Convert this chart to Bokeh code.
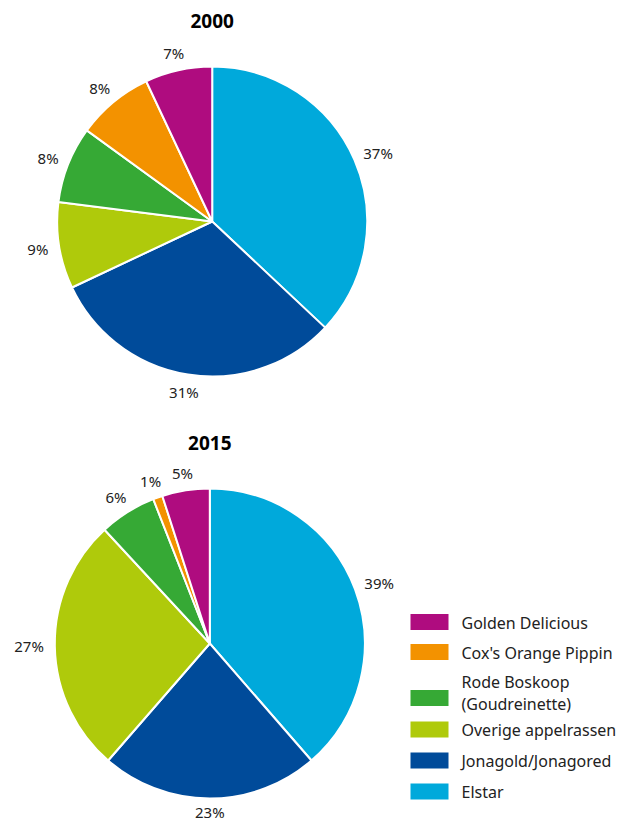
import math
from bokeh.plotting import figure
from bokeh.models import Range1d, ColumnDataSource
from bokeh.core.properties import value
from bokeh.embed import file_html
from bokeh.resources import INLINE

# ---- data ----
varieties = ["Elstar", "Jonagold/Jonagored", "Overige appelrassen",
             "Rode Boskoop\n(Goudreinette)", "Cox's Orange Pippin", "Golden Delicious"]
colors = ["#00a9db", "#004b9a", "#afca0b", "#36a935", "#f39200", "#af0c7f"]
years = ["2000", "2015"]
share_2000 = [37, 31, 9, 8, 8, 7]
share_2015 = [39, 23, 27, 6, 1, 5]

W, H = 622, 822
FONT = "Noto Sans"

def X(xi):
    return xi

def Y(yi):
    return H - yi

p = figure(width=W, height=H, output_backend="svg", toolbar_location=None,
           x_range=Range1d(0, W), y_range=Range1d(0, H), min_border=0)
p.axis.visible = False
p.grid.visible = False
p.outline_line_color = None
p.background_fill_color = "white"

R = 155
pies = [(years[0], share_2000, X(211.7), Y(221)), (years[1], share_2015, X(209.3), Y(643))]

for title, shares, cx, cy in pies:
    total = float(sum(shares))
    starts, ends, lx, ly, labels = [], [], [], [], []
    c = 0.0
    for s in shares:
        c0, c1 = c / total, (c + s) / total
        starts.append(math.pi / 2 - 2 * math.pi * c1)
        ends.append(math.pi / 2 - 2 * math.pi * c0)
        mid = 2 * math.pi * (c0 + c1) / 2
        ux, uy = math.sin(mid), math.cos(mid)
        txt = f"{s}%"
        w = 8.5 * len(txt)
        lx.append(cx + ux * 168 + ux * w / 2)
        ly.append(max(cy + uy * 168 + uy * 5, 11))  # keep inside the canvas
        labels.append(txt)
        c += s
    src = ColumnDataSource(dict(x=[cx] * len(shares), y=[cy] * len(shares),
                                start=starts, end=ends, color=colors))
    p.wedge(x="x", y="y", radius=R, start_angle="start", end_angle="end",
            direction="anticlock", fill_color="color", line_color="white",
            line_width=2, source=src)
    p.text(x=lx, y=ly, text=labels, text_align="center", text_baseline="middle",
           text_font=value(FONT), text_font_size="15px", text_color="#222222")
    p.text(x=[cx], y=[cy + R + 46], text=[title], text_align="center",
           text_baseline="middle", text_font=value(FONT), text_font_size="19px",
           text_font_style="bold", text_color="#000000")

# ---- legend (top to bottom: reverse slice order) ----
leg_names = varieties[::-1]
leg_colors = colors[::-1]
row_y = [621.5, 651.5, 697.5, 729, 760, 791]
text_y = [622, 652, 692.5, 729, 760, 791]
p.rect(x=[X(429)] * 6, y=[Y(v) for v in row_y], width=38, height=16,
       fill_color=leg_colors, line_color=None)
p.text(x=[X(461)] * 6, y=[Y(v) for v in text_y], text=leg_names,
       text_align="left", text_baseline="middle", text_font=value(FONT),
       text_font_size="16px", text_color="#222222", text_line_height=1.0)

open("out.html", "w").write(file_html(p, INLINE))
